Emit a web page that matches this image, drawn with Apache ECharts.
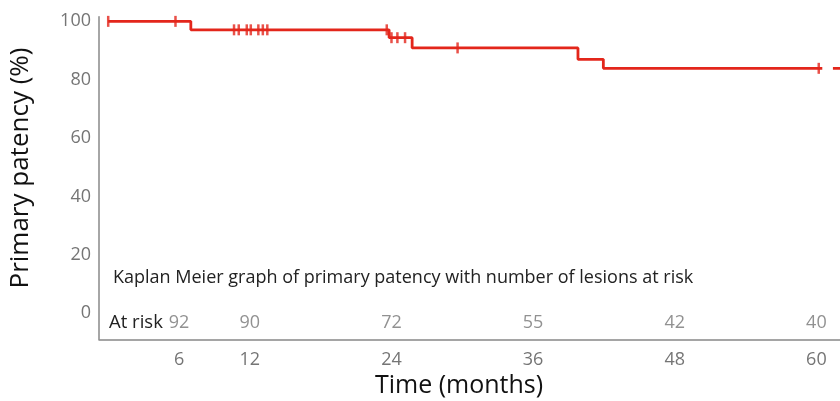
<!DOCTYPE html>
<html>
<head>
<meta charset="utf-8">
<script src="https://cdn.jsdelivr.net/npm/echarts@6/dist/echarts.min.js"></script>
<style>html,body{margin:0;padding:0;background:#fff}#c{width:840px;height:401px}</style>
</head>
<body>
<div id="c"></div>
<script>
// Kaplan-Meier steps (months, % patency)
var stepTimes = [0, 7.0, 23.8, 25.75, 39.8, 41.95, 60.5];
var stepValues = [100, 97.1, 94.4, 90.9, 87.0, 83.9, 83.9];
// trailing piece at the right edge
var tailTimes = [61.4, 63];
var tailValues = [83.9, 83.9];
// censored observations (months)
var censorTimes = [0, 5.7, 10.66, 11.06, 11.74, 12.08, 12.72, 13.10, 13.48, 23.6, 24.0, 24.5, 25.15, 29.6, 60.2];
// at-risk table
var riskMonths = [6, 12, 24, 36, 48, 60];
var riskCounts = [92, 90, 72, 55, 42, 40];
var xTickLabels = [6, 12, 24, 36, 48, 60];
var yTickLabels = [0, 20, 40, 60, 80, 100];

function survivalAt(t) {
  var v = stepValues[0];
  for (var i = 0; i < stepTimes.length; i++) {
    if (stepTimes[i] <= t) v = stepValues[i];
  }
  return v;
}

var RED = '#e3261b';
var GRAY = '#757575';
var FONT = 'Open Sans';

var chart = echarts.init(document.getElementById('c'));
var kmData = stepTimes.map(function (t, i) { return [t, stepValues[i]]; });
var tailData = tailTimes.map(function (t, i) { return [t, tailValues[i]]; });
var censorData = censorTimes.map(function (t) { return [t, survivalAt(t)]; });
var riskData = riskMonths.map(function (m, i) { return [m, -3.4, riskCounts[i]]; });

chart.setOption({
  animation: false,
  grid: { left: 99, right: 0, top: 16.7, bottom: 61.7, containLabel: false },
  xAxis: {
    type: 'value', min: -0.78, max: 62.0,
    splitLine: { show: false },
    axisTick: { show: false },
    axisLine: { show: true, onZero: false, lineStyle: { color: '#888888', width: 1.5 } },
    axisLabel: { customValues: xTickLabels, color: GRAY, fontSize: 18, fontFamily: FONT, margin: 12 }
  },
  yAxis: {
    type: 'value', min: -9, max: 101.6,
    splitLine: { show: false },
    axisTick: { show: false },
    axisLine: { show: true, onZero: false, lineStyle: { color: '#888888', width: 1.5 } },
    axisLabel: { customValues: yTickLabels, color: GRAY, fontSize: 18, fontFamily: FONT, margin: 8 }
  },
  graphic: [
    { type: 'text', x: 21, y: 168, rotation: Math.PI / 2,
      style: { text: 'Primary patency (%)', fill: '#111', font: '26px "Open Sans"', textAlign: 'center', textVerticalAlign: 'middle' } },
    { type: 'text', x: 459, y: 386,
      style: { text: 'Time (months)', fill: '#111', font: '25px "Open Sans"', textAlign: 'center', textVerticalAlign: 'middle' } },
    { type: 'text', x: 113, y: 278,
      style: { text: 'Kaplan Meier graph of primary patency with number of lesions at risk', fill: '#222', font: '18px "Open Sans"', textAlign: 'left', textVerticalAlign: 'middle' } },
    { type: 'text', x: 109, y: 323,
      style: { text: 'At risk', fill: '#222', font: '18.5px "Open Sans"', textAlign: 'left', textVerticalAlign: 'middle' } }
  ],
  series: [
    { type: 'line', step: 'end', data: kmData, showSymbol: false, lineStyle: { color: RED, width: 2.8 }, clip: true },
    { type: 'line', data: tailData, showSymbol: false, lineStyle: { color: RED, width: 2.8 }, clip: true },
    { type: 'scatter', data: censorData, symbol: 'rect', symbolSize: [2.5, 11], itemStyle: { color: RED } },
    { type: 'scatter', data: riskData, symbolSize: 0,
      label: { show: true, position: 'inside', formatter: function (p) { return p.value[2]; }, color: GRAY, fontSize: 18, fontFamily: FONT } }
  ]
});
</script>
</body>
</html>
